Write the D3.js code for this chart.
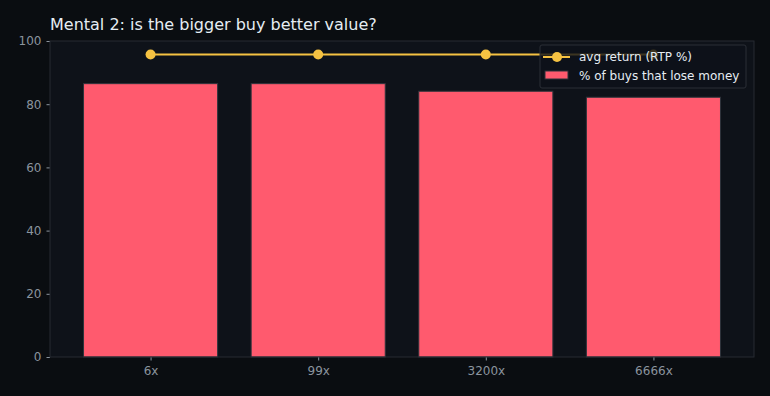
<!DOCTYPE html>
<html>
<head>
<meta charset="utf-8">
<script src="https://cdn.jsdelivr.net/npm/d3@7"></script>
<style>
  body { margin: 0; background: #0a0d11; }
  text { font-family: "DejaVu Sans", sans-serif; }
</style>
</head>
<body>
<div id="chart"></div>
<script>
const categories = ["6x", "99x", "3200x", "6666x"];
const lossPct = [86.5, 86.5, 84.1, 82.2];
const rtpPct = [95.7, 95.7, 95.7, 95.7];
const yTicks = [0, 20, 40, 60, 80, 100];

const svgWidth = 770, svgHeight = 396,
  margin = { top: 41, right: 16, bottom: 39, left: 50 },
  width = svgWidth - margin.left - margin.right,
  height = svgHeight - margin.top - margin.bottom;

const svg = d3.select("#chart").append("svg")
  .attr("width", svgWidth)
  .attr("height", svgHeight);

svg.append("rect").attr("width", svgWidth).attr("height", svgHeight).attr("fill", "#0a0d11");

const g = svg.append("g").attr("transform", `translate(${margin.left},${margin.top})`);

g.append("rect").attr("width", width).attr("height", height).attr("fill", "#0e1219");

// category positions like matplotlib: index with 0.6 padding
const x = d3.scaleLinear().domain([-0.6, categories.length - 0.4]).range([0, width]);
const y = d3.scaleLinear().domain([0, 100]).range([height, 0]);
const step = x(1) - x(0);
const barW = step * 0.8;

// bars
g.selectAll("rect.bar")
  .data(lossPct)
  .join("rect")
  .attr("class", "bar")
  .attr("x", (d, i) => x(i) - barW / 2)
  .attr("y", d => y(d))
  .attr("width", barW)
  .attr("height", d => height - y(d))
  .attr("fill", "#ff5a6e")
  .attr("stroke", "#2d333b")
  .attr("stroke-width", 1);

// line
const line = d3.line().x((d, i) => x(i)).y(d => y(d));
g.append("path")
  .datum(rtpPct)
  .attr("d", line)
  .attr("fill", "none")
  .attr("stroke", "#f5c242")
  .attr("stroke-width", 2);
g.selectAll("circle.pt")
  .data(rtpPct)
  .join("circle")
  .attr("class", "pt")
  .attr("cx", (d, i) => x(i))
  .attr("cy", d => y(d))
  .attr("r", 5)
  .attr("fill", "#f5c242");

// axes
const xAxis = g.append("g")
  .attr("transform", `translate(0,${height})`)
  .call(d3.axisBottom(x).tickValues(d3.range(categories.length)).tickFormat(i => categories[i]).tickSize(3.5).tickPadding(6));
const yAxis = g.append("g")
  .call(d3.axisLeft(y).tickValues(yTicks).tickSize(3.5).tickPadding(5));

[xAxis, yAxis].forEach(a => {
  a.select(".domain").remove();
  a.selectAll("line").attr("stroke", "#8b949e");
  a.selectAll("text").attr("fill", "#8b949e").style("font-size", "12px").style("font-family", "DejaVu Sans");
});

// spines
g.append("rect").attr("width", width).attr("height", height)
  .attr("fill", "none").attr("stroke", "#262b32").attr("stroke-width", 1);

// legend
const lg = g.append("g").attr("transform", `translate(${width - 214},4)`);
lg.append("rect").attr("width", 206).attr("height", 43).attr("rx", 2)
  .attr("fill", "#0e1219").attr("fill-opacity", 0.8).attr("stroke", "#2a2f36");
lg.append("line").attr("x1", 3).attr("x2", 30).attr("y1", 12).attr("y2", 12)
  .attr("stroke", "#f5c242").attr("stroke-width", 2);
lg.append("circle").attr("cx", 17).attr("cy", 12).attr("r", 5).attr("fill", "#f5c242");
lg.append("rect").attr("x", 5).attr("y", 26).attr("width", 23).attr("height", 8)
  .attr("fill", "#ff5a6e").attr("stroke", "#2d333b");
lg.append("text").attr("x", 39).attr("y", 16).text("avg return (RTP %)")
  .attr("fill", "#e6edf3").style("font-size", "12px");
lg.append("text").attr("x", 39).attr("y", 35).text("% of buys that lose money")
  .attr("fill", "#e6edf3").style("font-size", "12px");

// title
svg.append("text").attr("x", 50).attr("y", 30)
  .text("Mental 2: is the bigger buy better value?")
  .attr("fill", "#e6edf3").style("font-size", "16px");
</script>
</body>
</html>
